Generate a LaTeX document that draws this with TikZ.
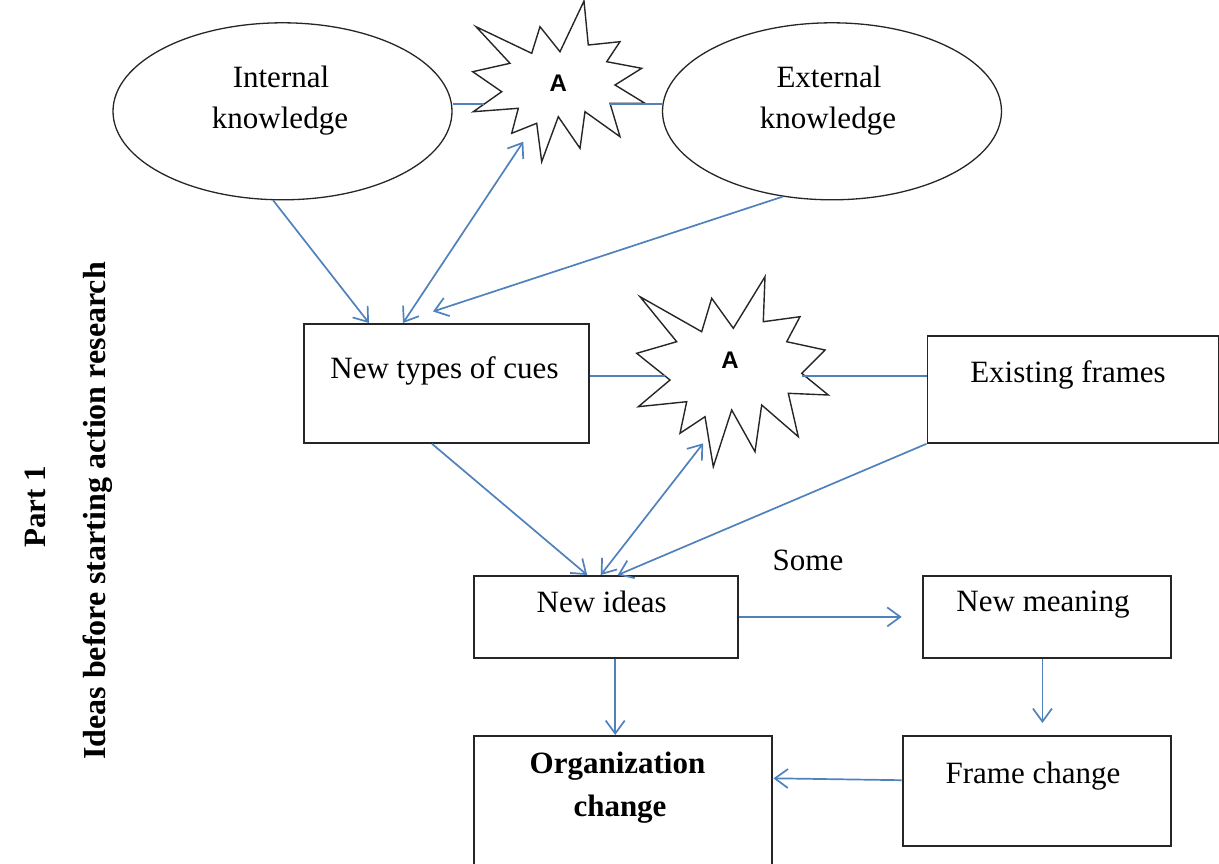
\documentclass[tikz,border=0pt]{standalone}
\usepackage{fontspec}
\setmainfont{Liberation Serif}
\newfontfamily\sansA{Liberation Sans}
\usetikzlibrary{arrows.meta,shapes.geometric,calc}
\definecolor{lblue}{RGB}{79,129,189}
\begin{document}
\begin{tikzpicture}[x=1pt,y=-1pt,
  txt/.style={font=\fontsize{31}{41}\selectfont, inner sep=0pt, anchor=base},
  btxt/.style={font=\fontsize{31}{41}\selectfont\bfseries, inner sep=0pt, anchor=base},
  bx/.style={draw=black!85, line width=1.8pt, rectangle, inner sep=0pt, anchor=north west},
  ell/.style={draw=black!85, ellipse, line width=1.3pt, inner sep=0pt, minimum width=339pt, minimum height=177pt},
  conn/.style={draw=lblue, line width=1.7pt},
  arr/.style={conn, -{Straight Barb[length=13pt,width=19pt]}},
  darr/.style={conn, {Straight Barb[length=13pt,width=19pt]}-{Straight Barb[length=13pt,width=19pt]}},
  burst/.style={draw=black!85, line width=1.4pt, fill=white, line join=miter},
  atxt/.style={font=\sansA\bfseries\fontsize{24}{28}\selectfont, inner sep=0pt}
]
\useasboundingbox (0,0) rectangle (1219,863);
\clip (0,0) rectangle (1219,863);

% ellipses
\node[ell] (ik) at (282.5,111.3) {};
\node[ell] (ek) at (832,111.3) {};
\node[txt] (ikt1) at (281,87) {Internal};
\node[txt] (ikt2) at (280,128) {knowledge};
\node[txt] (ekt1) at (829,87) {External};
\node[txt] (ekt2) at (828,128) {knowledge};

% boxes
\node[bx, minimum width=285pt, minimum height=119pt] (cues) at (303,323) {};
\node[bx, minimum width=291pt, minimum height=107pt] (frames) at (926.5,335) {};
\node[bx, minimum width=264pt, minimum height=82pt] (ideas) at (472.7,575) {};
\node[bx, minimum width=248.3pt, minimum height=82pt] (meaning) at (921.7,575) {};
\node[bx, minimum width=268.3pt, minimum height=110pt] (fchg) at (901.7,735) {};
\node[bx, minimum width=298pt, minimum height=160pt] (org) at (472.7,735) {};

\node[txt] (cuest) at (444.5,378) {New types of cues};
\node[txt] (framest) at (1068,382) {Existing frames};
\node[txt] (ideast) at (601.7,612.3) {New ideas};
\node[txt] (meaningt) at (1043,611.7) {New meaning};
\node[txt] (fchgt) at (1033,783) {Frame change};
\node[btxt] (orgt1) at (617.5,773.3) {Organization};
\node[btxt] (orgt2) at (620,816.7) {change};
\node[txt] (some) at (808,570) {Some};

\node[btxt, rotate=90, anchor=center] (part) at (35,507) {Part 1};
\node[btxt, rotate=90, anchor=center, font=\fontsize{32}{41}\selectfont\bfseries] (ideasb) at (98,511) {Ideas before starting action research};

% starbursts
\draw[burst] (476,26.7) -- (531.7,53.3) -- (540,26.7) -- (560,51.7) -- (584,1) -- (588.3,45) -- (620,41.7) -- (606.7,61.7) -- (641.7,68.3) -- (615,85) -- (645,103.3) -- (610,103.3) -- (620,136.7) -- (585,111.7) -- (580,148.3) -- (558.3,116.7) -- (541.7,161.7) -- (536.7,123.3) -- (511.7,133.3) -- (518.3,108.3) -- (473.3,111.7) -- (501.7,91.7) -- (472.7,71.7) -- (510,63.3) -- cycle;
\node[atxt] (a1) at (558.3,83.3) {A};

\draw[burst] (640,296.7) -- (701.7,331.7) -- (711.7,298.3) -- (733.3,328.3) -- (765,276.7) -- (763.3,321.7) -- (800,316.7) -- (786.7,341.7) -- (825,350) -- (801.7,373.3) -- (828.3,395) -- (788.3,393.3) -- (798.3,436.7) -- (761.7,405) -- (755,451.7) -- (731.7,410) -- (713.3,466.7) -- (705,416.7) -- (680,433.3) -- (686.7,401.7) -- (638.3,406.7) -- (670,380) -- (636.7,353.3) -- (676.7,341.7) -- cycle;
\node[atxt] (a2) at (730,360) {A};

\coordinate (s1w) at (483.5,104.3);
\coordinate (s1e) at (610,104.3);
\coordinate (s1s) at (523.3,141.7);
\coordinate (s2w) at (665,376);
\coordinate (s2e) at (802,376);
\coordinate (s2s) at (703.2,443.3);

% connectors
\draw[conn] (s1w -| ik.east) -- (s1w);
\draw[conn] (s1e) -- (s1e -| ek.west);
\draw[conn] (s2w -| cues.east) -- (s2w);
\draw[conn] (s2e) -- (s2e -| frames.west);

\draw[arr] (ik.-96) -- ($(cues.north west)+(66,0)$);
\draw[darr] ($(cues.north west)+(100,0)$) -- (s1s);
\draw[arr] (ek.-120.8) -- ($(cues.north west)+(130,-11.5)$);
\draw[arr] ($(cues.south west)+(129,0)$) -- ($(ideas.north west)+(114.5,0)$);
\draw[darr] ($(ideas.north west)+(128,0)$) -- (s2s);
\draw[arr] (frames.south west) -- ($(ideas.north west)+(145,0)$);
\draw[arr] (ideas.east) -- ($(meaning.west)+(-20,0)$);
\draw[arr] ($(meaning.south)+(-4.3,0)$) -- ($(fchg.north)+(5.7,-12)$);
\draw[arr] ($(ideas.south)+(9.6,0)$) -- ($(org.north)+(-7.4,0)$);
\draw[arr] ($(fchg.west)+(0,-10.7)$) -- ($(org.north east)+(1,43.3)$);
\end{tikzpicture}
\end{document}
